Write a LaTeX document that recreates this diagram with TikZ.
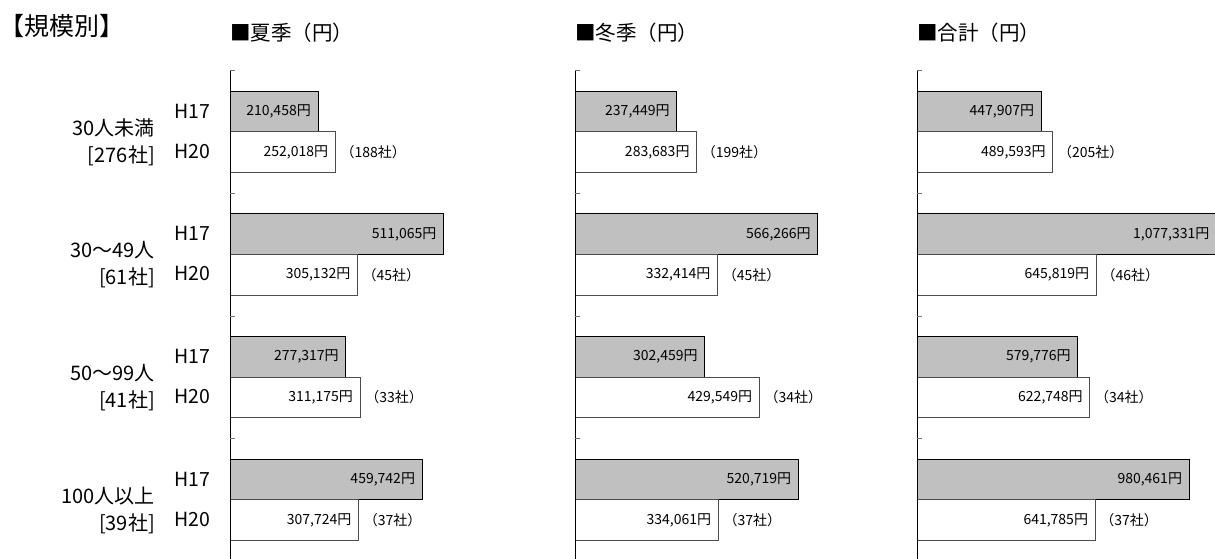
\documentclass[tikz,border=0pt]{standalone}
\usepackage{fontspec}
\setmainfont{Noto Sans CJK JP}
\definecolor{barg}{RGB}{192,192,192}
\newcommand\bargroup[8]{%
  \node[barA, minimum width=#4pt, anchor=north west] (#1a) at (#2,#3) {};
  \node[barB, minimum width=#5pt, anchor=north west] (#1b) at (#1a.south west) {};
  \node[val, anchor=east] (#1av) at ([xshift=-7pt]#1a.east) {#6};
  \node[val, anchor=east] (#1bv) at ([xshift=-7pt]#1b.east) {#7};
  \node[cnt, anchor=west] (#1c) at ([xshift=5pt]#1b.east) {#8};
}
\begin{document}
\begin{tikzpicture}[x=1pt,y=-1pt,
  barA/.style={draw=black, line width=0.9pt, fill=barg, minimum height=40.7pt, inner sep=0pt, outer sep=0pt},
  barB/.style={draw=black!70, line width=0.9pt, fill=white, minimum height=40.8pt, inner sep=0pt, outer sep=0pt},
  val/.style={font=\fontsize{14}{16}\selectfont, inner sep=0pt},
  cnt/.style={font=\fontsize{14}{16}\selectfont, inner sep=0pt},
  yr/.style={font=\fontsize{19.5}{21}\selectfont, inner sep=0pt, anchor=west},
  cat/.style={font=\fontsize{20}{22}\selectfont, inner sep=0pt, anchor=east},
  ttl/.style={font=\fontsize{20.5}{22}\selectfont, inner sep=0pt, anchor=west},
  axisline/.style={line width=1pt, black},
  tickmark/.style={line width=0.8pt, black!55}]
\useasboundingbox (0,0) rectangle (1215,558);

% titles
\node[ttl, font=\fontsize{25}{27}\selectfont] (main) at (-1,26) {【規模別】};
\node[ttl] (t1) at (230,33) {■夏季（円）};
\node[ttl] (t2) at (575,33) {■冬季（円）};
\node[ttl] (t3) at (917,33) {■合計（円）};

% row labels
\node[cat] (c0a) at (155,127.5) {30人未満};
\node[cat] (c0b) at (155,155.5) {[276社]};
\node[cat] (c1a) at (155,250.2) {30～49人};
\node[cat] (c1b) at (155,278.2) {[61社]};
\node[cat] (c2a) at (155,372.9) {50～99人};
\node[cat] (c2b) at (155,400.9) {[41社]};
\node[cat] (c3a) at (155,495.6) {100人以上};
\node[cat] (c3b) at (155,523.6) {[39社]};

\node[yr] (y0a) at (174,111) {H17};
\node[yr] (y0b) at (174,151) {H20};
\node[yr] (y1a) at (174,233.7) {H17};
\node[yr] (y1b) at (174,273.7) {H20};
\node[yr] (y2a) at (174,356.4) {H17};
\node[yr] (y2b) at (174,396.4) {H20};
\node[yr] (y3a) at (174,479.1) {H17};
\node[yr] (y3b) at (174,519.1) {H20};

% panel 1
\bargroup{pA0}{230}{91}{88.0}{105.3}{210,458円}{252,018円}{（188社）}
\bargroup{pA1}{230}{213.7}{213.6}{127.5}{511,065円}{305,132円}{（45社）}
\bargroup{pA2}{230}{336.4}{115.9}{130.1}{277,317円}{311,175円}{（33社）}
\bargroup{pA3}{230}{459.1}{192.2}{128.6}{459,742円}{307,724円}{（37社）}
% panel 2
\bargroup{pB0}{575}{91}{101.9}{121.7}{237,449円}{283,683円}{（199社）}
\bargroup{pB1}{575}{213.7}{242.9}{142.6}{566,266円}{332,414円}{（45社）}
\bargroup{pB2}{575}{336.4}{129.8}{184.3}{302,459円}{429,549円}{（34社）}
\bargroup{pB3}{575}{459.1}{223.4}{143.3}{520,719円}{334,061円}{（37社）}
% panel 3
\bargroup{pC0}{917}{91}{124.3}{135.9}{447,907円}{489,593円}{（205社）}
\bargroup{pC1}{917}{213.7}{299.5}{179.3}{1,077,331円}{645,819円}{（46社）}
\bargroup{pC2}{917}{336.4}{160.9}{172.9}{579,776円}{622,748円}{（34社）}
\bargroup{pC3}{917}{459.1}{272.2}{178.2}{980,461円}{641,785円}{（37社）}

% axes
\foreach \ax/\nm in {230/A,575/B,917/C}{
  \coordinate (ax\nm top) at (\ax,70.5);
  \coordinate (ax\nm bot) at (\ax,560);
  \draw[axisline] (ax\nm top) -- (ax\nm bot);
  \foreach \t in {70.5,193.2,315.9,438.6}
    \draw[tickmark] (\ax,\t) -- ++(5,0);
}
\end{tikzpicture}
\end{document}
